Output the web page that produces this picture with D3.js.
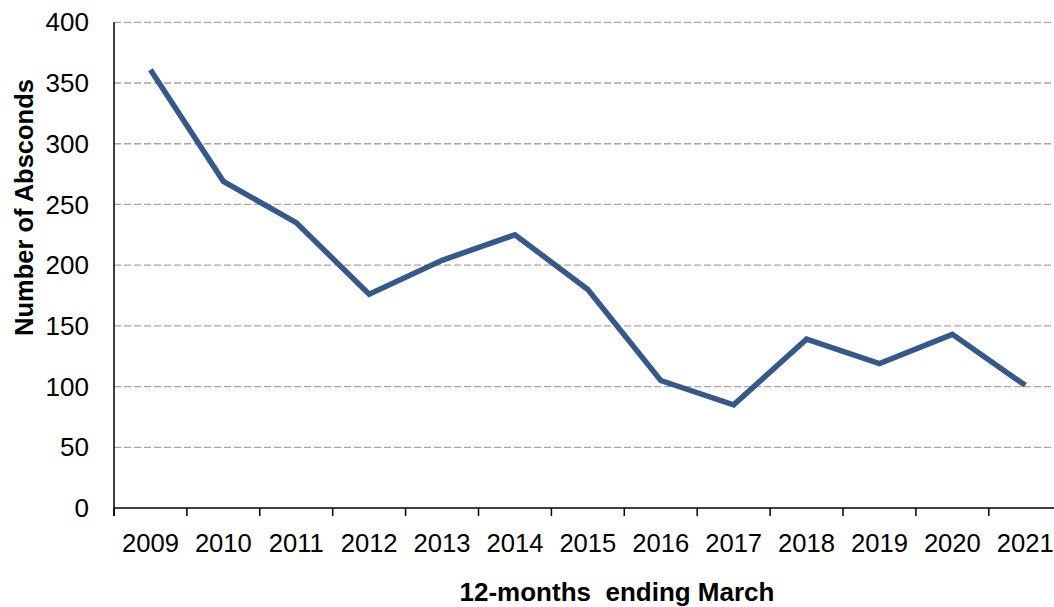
<!DOCTYPE html>
<html>
<head>
<meta charset="utf-8">
<script src="https://cdn.jsdelivr.net/npm/d3@7"></script>
<style>
  body { margin: 0; background: #fff; }
  svg { display: block; font-family: Arial, "Liberation Sans", sans-serif; }
</style>
</head>
<body>
<svg class="chart"></svg>
<script>
const size = { w: 1054, h: 607 };

// years on the x axis (12-months ending March)
const years = ["2009", "2010", "2011", "2012", "2013", "2014", "2015",
  "2016", "2017", "2018", "2019", "2020", "2021"];
// number of absconds per year
const absconds = [361, 269, 235, 176, 204, 225, 180, 105, 85, 139, 119, 143, 101];
// y tick values
const yTicks = [0, 50, 100, 150, 200, 250, 300, 350, 400];

const svg = d3.select("svg.chart").attr("width", size.w).attr("height", size.h);

// plot area (the right side runs past the picture edge, like the source)
const plot = { left: 114, top: 22.3, bottom: 508, right: 114 + 13 * 72.9 };

const x = d3.scaleBand().domain(years).range([plot.left, plot.right]).padding(0);
const y = d3.scaleLinear().domain([0, 400]).range([plot.bottom, plot.top]);

// dashed gridlines
svg.append("g")
  .selectAll("line")
  .data(yTicks.filter((d) => d > 0))
  .join("line")
  .attr("x1", plot.left)
  .attr("x2", size.w)
  .attr("y1", (d) => y(d))
  .attr("y2", (d) => y(d))
  .attr("stroke", "#a6a6a6")
  .attr("stroke-width", 1.3)
  .attr("stroke-dasharray", "7,3");

// y tick labels
svg.append("g")
  .selectAll("text")
  .data(yTicks)
  .join("text")
  .attr("x", 89)
  .attr("y", (d) => y(d))
  .attr("dy", "0.35em")
  .attr("text-anchor", "end")
  .attr("font-size", 26)
  .text((d) => d);

// x axis line + ticks on the band edges
svg.append("line")
  .attr("x1", plot.left).attr("x2", size.w)
  .attr("y1", plot.bottom).attr("y2", plot.bottom)
  .attr("stroke", "#000").attr("stroke-width", 1.5);

svg.append("g")
  .selectAll("line")
  .data(years)
  .join("line")
  .attr("x1", (d) => x(d))
  .attr("x2", (d) => x(d))
  .attr("y1", plot.bottom)
  .attr("y2", plot.bottom + 8)
  .attr("stroke", "#000")
  .attr("stroke-width", 1.5);

// x tick labels
svg.append("g")
  .selectAll("text")
  .data(years)
  .join("text")
  .attr("x", (d) => x(d) + x.bandwidth() / 2)
  .attr("y", 551.5)
  .attr("text-anchor", "middle")
  .attr("font-size", 25.6)
  .text((d) => d);

// y axis line
svg.append("line")
  .attr("x1", plot.left).attr("x2", plot.left)
  .attr("y1", plot.top).attr("y2", plot.bottom + 8)
  .attr("stroke", "#000").attr("stroke-width", 1.5);

// the line
const pathFn = d3.line()
  .x((d, i) => x(years[i]) + x.bandwidth() / 2)
  .y((d) => y(d));

svg.append("path")
  .datum(absconds)
  .attr("d", pathFn)
  .attr("fill", "none")
  .attr("stroke", "#36588a")
  .attr("stroke-width", 5.5)
  .attr("stroke-linejoin", "miter");

// axis titles
svg.append("text")
  .attr("x", 617)
  .attr("y", 601)
  .attr("text-anchor", "middle")
  .attr("font-size", 26)
  .attr("font-weight", "bold")
  .style("white-space", "pre")
  .text("12-months  ending March");

svg.append("text")
  .attr("transform", "translate(33,207.5) rotate(-90)")
  .attr("text-anchor", "middle")
  .attr("font-size", 25.5)
  .attr("font-weight", "bold")
  .text("Number of Absconds");
</script>
</body>
</html>
